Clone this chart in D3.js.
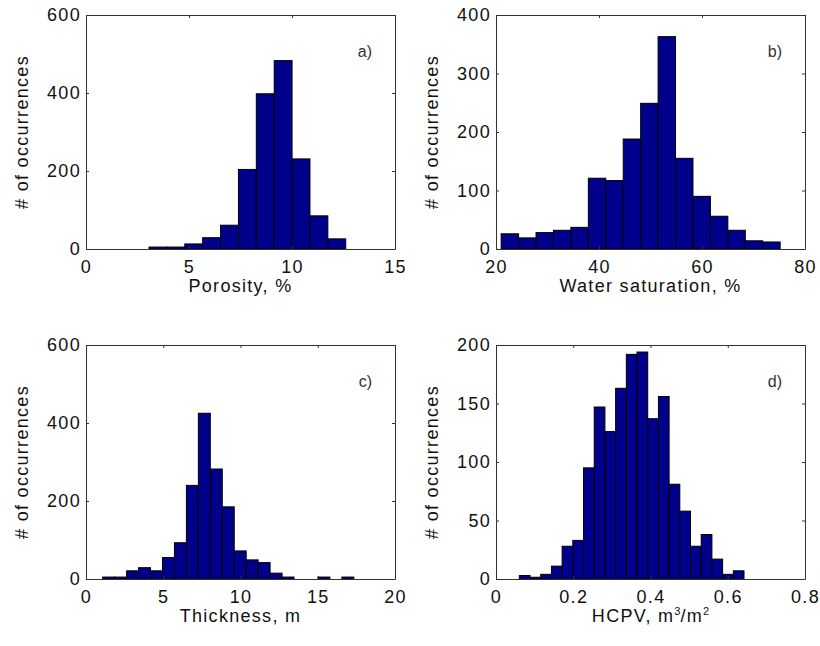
<!DOCTYPE html>
<html>
<head>
<meta charset="utf-8">
<script src="https://cdn.jsdelivr.net/npm/d3@7"></script>
<style>
  body { margin: 0; background: #fff; }
  text { font-family: "Liberation Sans", Arial, sans-serif; fill: #111; }
</style>
</head>
<body>
<div id="chart"></div>
<script>
var width = 820, height = 646;

// histogram counts (first bin start + bin width in data units)
var porosityCounts = [5, 5, 13, 29, 61, 204, 398, 483, 231, 85, 26];
var porosityStart = 3.06, porosityBin = 0.868;

var swCounts = [26, 19, 28, 32, 37, 121, 117, 188, 249, 363, 155, 90, 56, 32, 14, 12];
var swStart = 21.0, swBin = 3.386;

var thickCounts = [5, 5, 21, 29, 21, 55, 93, 240, 425, 282, 185, 72, 49, 42, 15, 5, 0, 0, 5, 0, 5, 0];
var thickStart = 1.08, thickBin = 0.774;

var hcpvCounts = [3, 1.5, 4, 11, 28, 33, 95, 147, 126, 163, 192, 194, 137, 156, 81, 58, 28, 38, 17, 4, 7];
var hcpvStart = 0.0604, hcpvBin = 0.0277;

var porosityXTicks = [0, 5, 10, 15], porosityYTicks = [0, 200, 400, 600];
var swXTicks = [20, 40, 60, 80], swYTicks = [0, 100, 200, 300, 400];
var thickXTicks = [0, 5, 10, 15, 20], thickYTicks = [0, 200, 400, 600];
var hcpvXTicks = [0, 0.2, 0.4, 0.6, 0.8], hcpvYTicks = [0, 50, 100, 150, 200];

var panels = [
  {counts: porosityCounts, start: porosityStart, bin: porosityBin, xDom: [0, 15], yDom: [0, 600],
   xt: porosityXTicks, yt: porosityYTicks, xlabel: "Porosity, %", tag: "a)", left: 86, top: 15},
  {counts: swCounts, start: swStart, bin: swBin, xDom: [20, 80], yDom: [0, 400],
   xt: swXTicks, yt: swYTicks, xlabel: "Water saturation, %", tag: "b)", left: 496, top: 15},
  {counts: thickCounts, start: thickStart, bin: thickBin, xDom: [0, 20], yDom: [0, 600],
   xt: thickXTicks, yt: thickYTicks, xlabel: "Thickness, m", tag: "c)", left: 86, top: 345},
  {counts: hcpvCounts, start: hcpvStart, bin: hcpvBin, xDom: [0, 0.8], yDom: [0, 200],
   xt: hcpvXTicks, yt: hcpvYTicks, xlabel: "HCPV", tag: "d)", left: 496, top: 345}
];

var pw = 309, ph = 234;
var fontSize = "18px", spacing = "1.3px";

var svg = d3.select("#chart").append("svg")
    .attr("width", width)
    .attr("height", height);

panels.forEach(function (p) {
    var g = svg.append("g").attr("transform", "translate(" + p.left + "," + p.top + ")");
    var x = d3.scaleLinear().domain(p.xDom).range([0, pw]);
    var y = d3.scaleLinear().domain(p.yDom).range([ph, 0]);

    // bars (empty bins are skipped)
    var bins = p.counts.map((c, i) => ({c: c, x0: p.start + i * p.bin, x1: p.start + (i + 1) * p.bin}))
        .filter(d => d.c > 0);
    g.selectAll("rect.bar")
        .data(bins)
        .enter()
        .append("rect")
        .attr("class", "bar")
        .attr("x", d => x(d.x0))
        .attr("width", d => x(d.x1) - x(d.x0))
        .attr("y", d => y(d.c))
        .attr("height", d => ph - y(d.c))
        .style("fill", "#00008b")
        .style("stroke", "#000")
        .style("stroke-width", 1);

    // axes with inward ticks, mirrored on top/right
    var axB = g.append("g").attr("transform", "translate(0," + ph + ")")
        .call(d3.axisBottom(x).tickValues(p.xt).tickSizeInner(-3).tickSizeOuter(0).tickPadding(8)
            .tickFormat(d3.format("")));
    var axL = g.append("g")
        .call(d3.axisLeft(y).tickValues(p.yt).tickSizeInner(-3).tickSizeOuter(0).tickPadding(5));
    var axT = g.append("g")
        .call(d3.axisTop(x).tickValues(p.xt).tickSizeInner(-3).tickSizeOuter(0).tickFormat(""));
    var axR = g.append("g").attr("transform", "translate(" + pw + ",0)")
        .call(d3.axisRight(y).tickValues(p.yt).tickSizeInner(-3).tickSizeOuter(0).tickFormat(""));

    [axB, axL, axT, axR].forEach(function (a) {
        a.selectAll("path, line").style("stroke", "#333");
        a.selectAll("text").style("font-size", fontSize).style("letter-spacing", spacing)
            .style("font-family", "'Liberation Sans', Arial, sans-serif").style("fill", "#111");
    });
    axB.selectAll("text").attr("dy", "0.9em");

    // x label
    var xl = g.append("text")
        .attr("x", pw / 2)
        .attr("y", ph + 43)
        .attr("text-anchor", "middle")
        .style("font-size", fontSize)
        .style("letter-spacing", spacing);
    if (p.xlabel === "HCPV") {
        xl.append("tspan").text("HCPV, m");
        xl.append("tspan").attr("dy", -7).style("font-size", "11px").style("letter-spacing", "0px").text("3");
        xl.append("tspan").attr("dy", 7).text("/m");
        xl.append("tspan").attr("dy", -7).style("font-size", "11px").style("letter-spacing", "0px").text("2");
    } else {
        xl.text(p.xlabel);
    }

    // y label
    g.append("text")
        .attr("transform", "translate(" + (-58) + "," + (ph / 2) + ") rotate(-90)")
        .attr("text-anchor", "middle")
        .style("font-size", fontSize)
        .style("letter-spacing", spacing)
        .text("# of occurrences");

    // panel tag
    g.append("text")
        .attr("x", pw - 23)
        .attr("y", 42)
        .attr("text-anchor", "end")
        .style("font-size", "16px")
        .style("fill", "#333")
        .text(p.tag);
});
</script>
</body>
</html>
